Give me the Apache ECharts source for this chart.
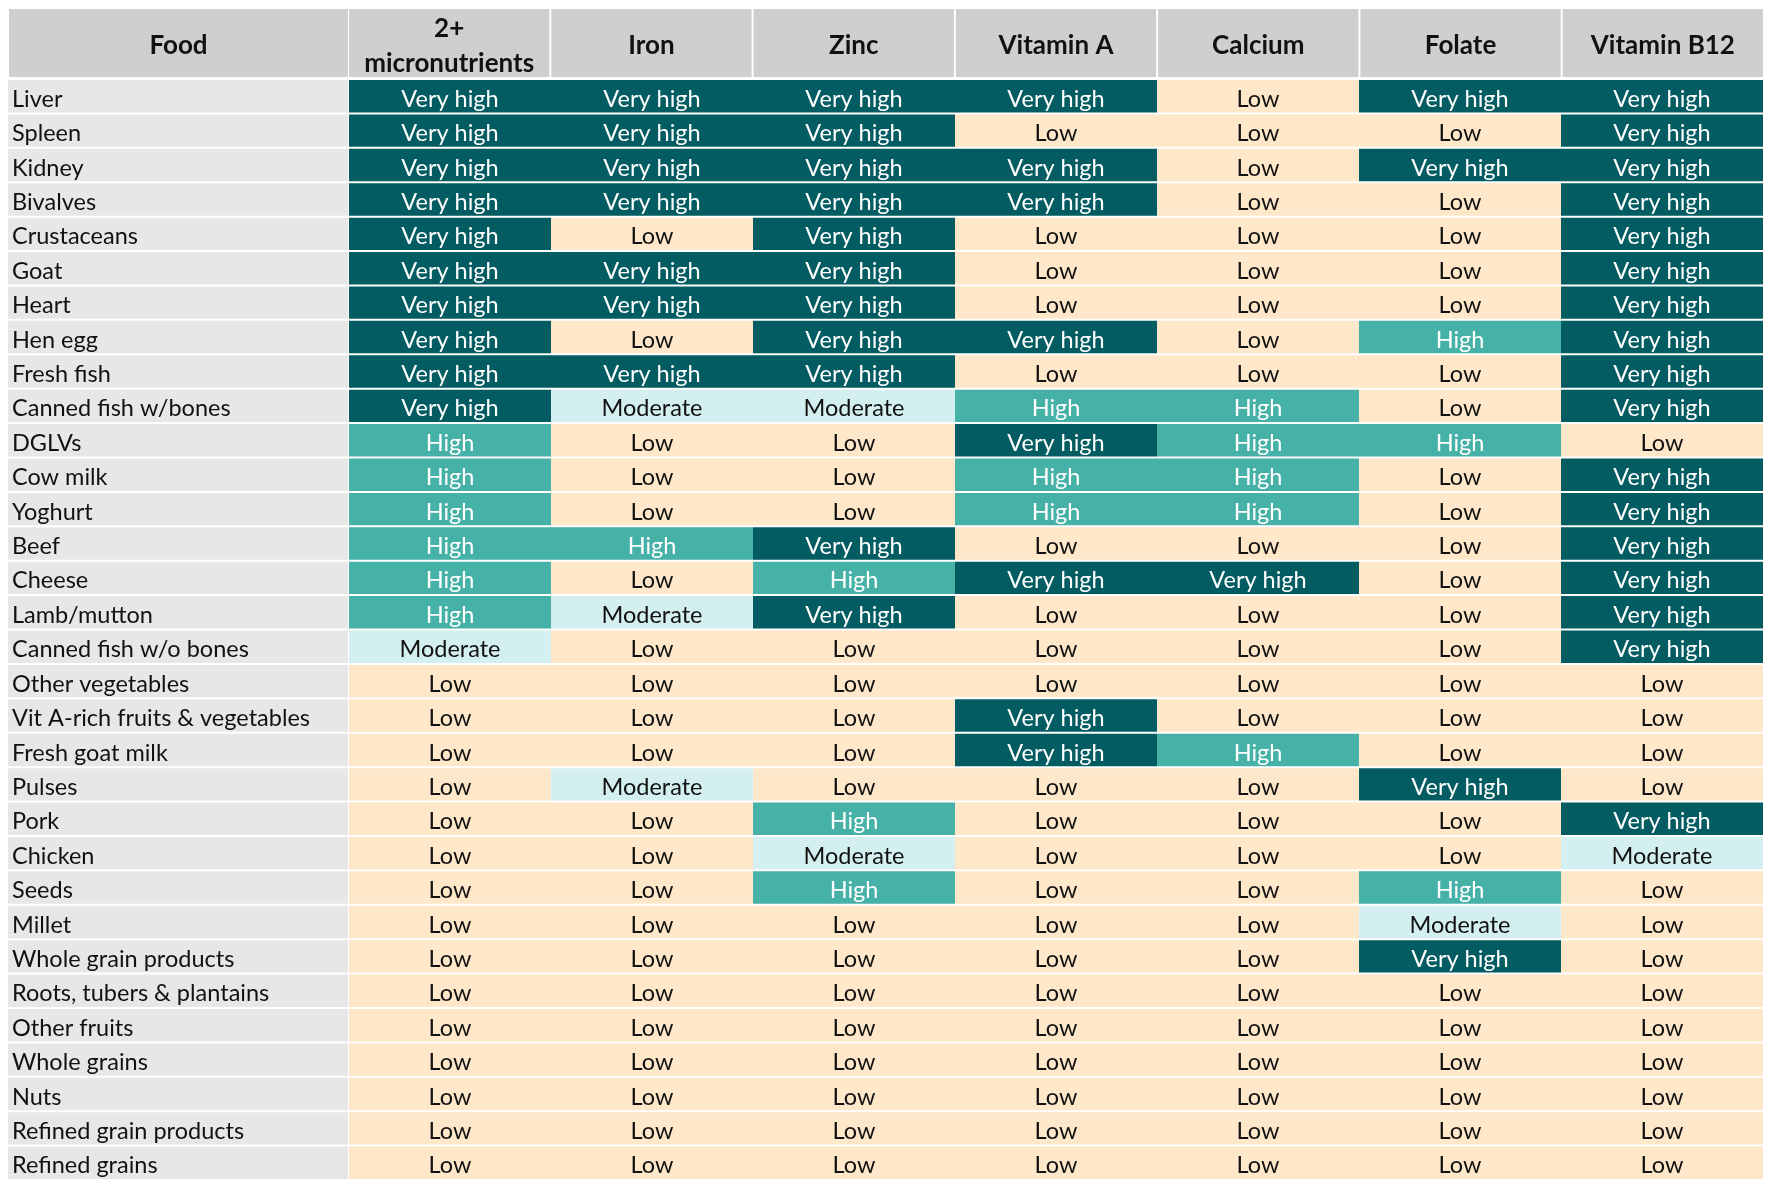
<!DOCTYPE html>
<html>
<head>
<meta charset="utf-8">
<script src="https://cdn.jsdelivr.net/npm/echarts@6/dist/echarts.min.js"></script>
<style>
  html, body { margin: 0; padding: 0; background: #fff; }
  #chart { width: 1772px; height: 1189px; }
</style>
</head>
<body>
<div id="chart"></div>
<script>
// table contents
const nutrients = ['2+\nmicronutrients', 'Iron', 'Zinc', 'Vitamin A', 'Calcium', 'Folate', 'Vitamin B12'];
const levels = ['Low', 'Moderate', 'High', 'Very high'];
const foods = [
  'Liver', 'Spleen', 'Kidney', 'Bivalves', 'Crustaceans', 'Goat', 'Heart', 'Hen egg',
  'Fresh fish', 'Canned fish w/bones', 'DGLVs', 'Cow milk', 'Yoghurt', 'Beef', 'Cheese',
  'Lamb/mutton', 'Canned fish w/o bones', 'Other vegetables', 'Vit A-rich fruits & vegetables',
  'Fresh goat milk', 'Pulses', 'Pork', 'Chicken', 'Seeds', 'Millet', 'Whole grain products',
  'Roots, tubers & plantains', 'Other fruits', 'Whole grains', 'Nuts',
  'Refined grain products', 'Refined grains'
];
// one string per food, letters per nutrient column: L=Low M=Moderate H=High V=Very high
const ratings = [
  'VVVVLVV', 'VVVLLLV', 'VVVVLVV', 'VVVVLLV', 'VLVLLLV', 'VVVLLLV', 'VVVLLLV', 'VLVVLHV',
  'VVVLLLV', 'VMMHHLV', 'HLLVHHL', 'HLLHHLV', 'HLLHHLV', 'HHVLLLV', 'HLHVVLV',
  'HMVLLLV', 'MLLLLLV', 'LLLLLLL', 'LLLVLLL',
  'LLLVHLL', 'LMLLLVL', 'LLHLLLV', 'LLMLLLM', 'LLHLLHL', 'LLLLLML', 'LLLLLVL',
  'LLLLLLL', 'LLLLLLL', 'LLLLLLL', 'LLLLLLL',
  'LLLLLLL', 'LLLLLLL'
];

const levelColors = ['#ffe8c9', '#d4efef', '#46b1a7', '#035c62'];
const levelText = ['#111', '#111', '#fff', '#fff'];
const FONT = 'Lato, "Open Sans", sans-serif';

const code = {L: 0, M: 1, H: 2, V: 3};
let cells = [];
for (let r = 0; r < foods.length; r++) {
  for (let c = 0; c < nutrients.length; c++) {
    cells.push([c, r, code[ratings[r][c]]]);
  }
}
let foodCells = foods.map((f, i) => [0, i]);
let headCells = nutrients.map((n, i) => [i, 0]);

const myChart = echarts.init(document.getElementById('chart'));

const renderCell = (params, api) => {
  let lv = api.value(2);
  let p = api.coord([api.value(0), api.value(1)]);
  let s = api.size([1, 1]);
  return {
    type: 'group',
    children: [
      {
        type: 'rect',
        shape: {x: p[0] - s[0] / 2, y: p[1] - s[1] / 2 + 1, width: s[0], height: s[1] - 2},
        style: {fill: levelColors[lv]}
      },
      {
        type: 'text',
        style: {
          x: p[0], y: p[1] + 3,
          text: levels[lv],
          fill: levelText[lv], fontSize: 23.5, fontFamily: FONT,
          align: 'center', verticalAlign: 'middle'
        }
      }
    ]
  };
};

const renderFood = (params, api) => {
  let p = api.coord([api.value(0), api.value(1)]);
  let s = api.size([1, 1]);
  let x0 = p[0] - s[0] / 2;
  return {
    type: 'group',
    children: [
      {
        type: 'rect',
        shape: {x: x0, y: p[1] - s[1] / 2 + 1, width: s[0] - 1, height: s[1] - 2},
        style: {fill: '#e7e7e7'}
      },
      {
        type: 'text',
        style: {
          x: x0 + 4, y: p[1] + 3,
          text: foods[api.value(1)],
          fill: '#111', fontSize: 23.5, fontFamily: FONT,
          align: 'left', verticalAlign: 'middle'
        }
      }
    ]
  };
};

const renderHead = (label) => (params, api) => {
  let p = api.coord([api.value(0), api.value(1)]);
  let s = api.size([1, 1]);
  return {
    type: 'group',
    children: [
      {
        type: 'rect',
        shape: {x: p[0] - s[0] / 2 + 1, y: p[1] - s[1] / 2, width: s[0] - 2, height: s[1]},
        style: {fill: '#d0cece'}
      },
      {
        type: 'text',
        style: {
          x: p[0], y: p[1] + 3,
          text: label(api.value(0)),
          fill: '#111', fontSize: 26, fontWeight: 'bold', fontFamily: FONT,
          align: 'center', verticalAlign: 'middle', lineHeight: 35
        }
      }
    ]
  };
};

const hidden = {show: false};
const catAxis = (gi, data, inverse) => ({
  type: 'category', gridIndex: gi, data: data, inverse: !!inverse,
  axisLine: hidden, axisTick: hidden, axisLabel: hidden, splitLine: hidden
});

myChart.setOption({
  animation: false,
  grid: [
    {left: 8, width: 341, top: 9, height: 68},     // food header
    {left: 348, right: 8, top: 9, height: 68},     // nutrient header
    {left: 8, width: 341, top: 79, height: 1101},  // food names
    {left: 349, right: 9, top: 79, height: 1101}   // ratings
  ],
  xAxis: [
    catAxis(0, ['Food']),
    catAxis(1, nutrients),
    catAxis(2, ['Food']),
    catAxis(3, nutrients)
  ],
  yAxis: [
    catAxis(0, ['head']),
    catAxis(1, ['head']),
    catAxis(2, foods, true),
    catAxis(3, foods, true)
  ],
  series: [
    {type: 'custom', xAxisIndex: 0, yAxisIndex: 0, data: [[0, 0]], renderItem: renderHead(() => 'Food')},
    {type: 'custom', xAxisIndex: 1, yAxisIndex: 1, data: headCells, renderItem: renderHead(i => nutrients[i])},
    {type: 'custom', xAxisIndex: 2, yAxisIndex: 2, data: foodCells, renderItem: renderFood},
    {type: 'custom', xAxisIndex: 3, yAxisIndex: 3, data: cells, renderItem: renderCell}
  ]
});
</script>
</body>
</html>
